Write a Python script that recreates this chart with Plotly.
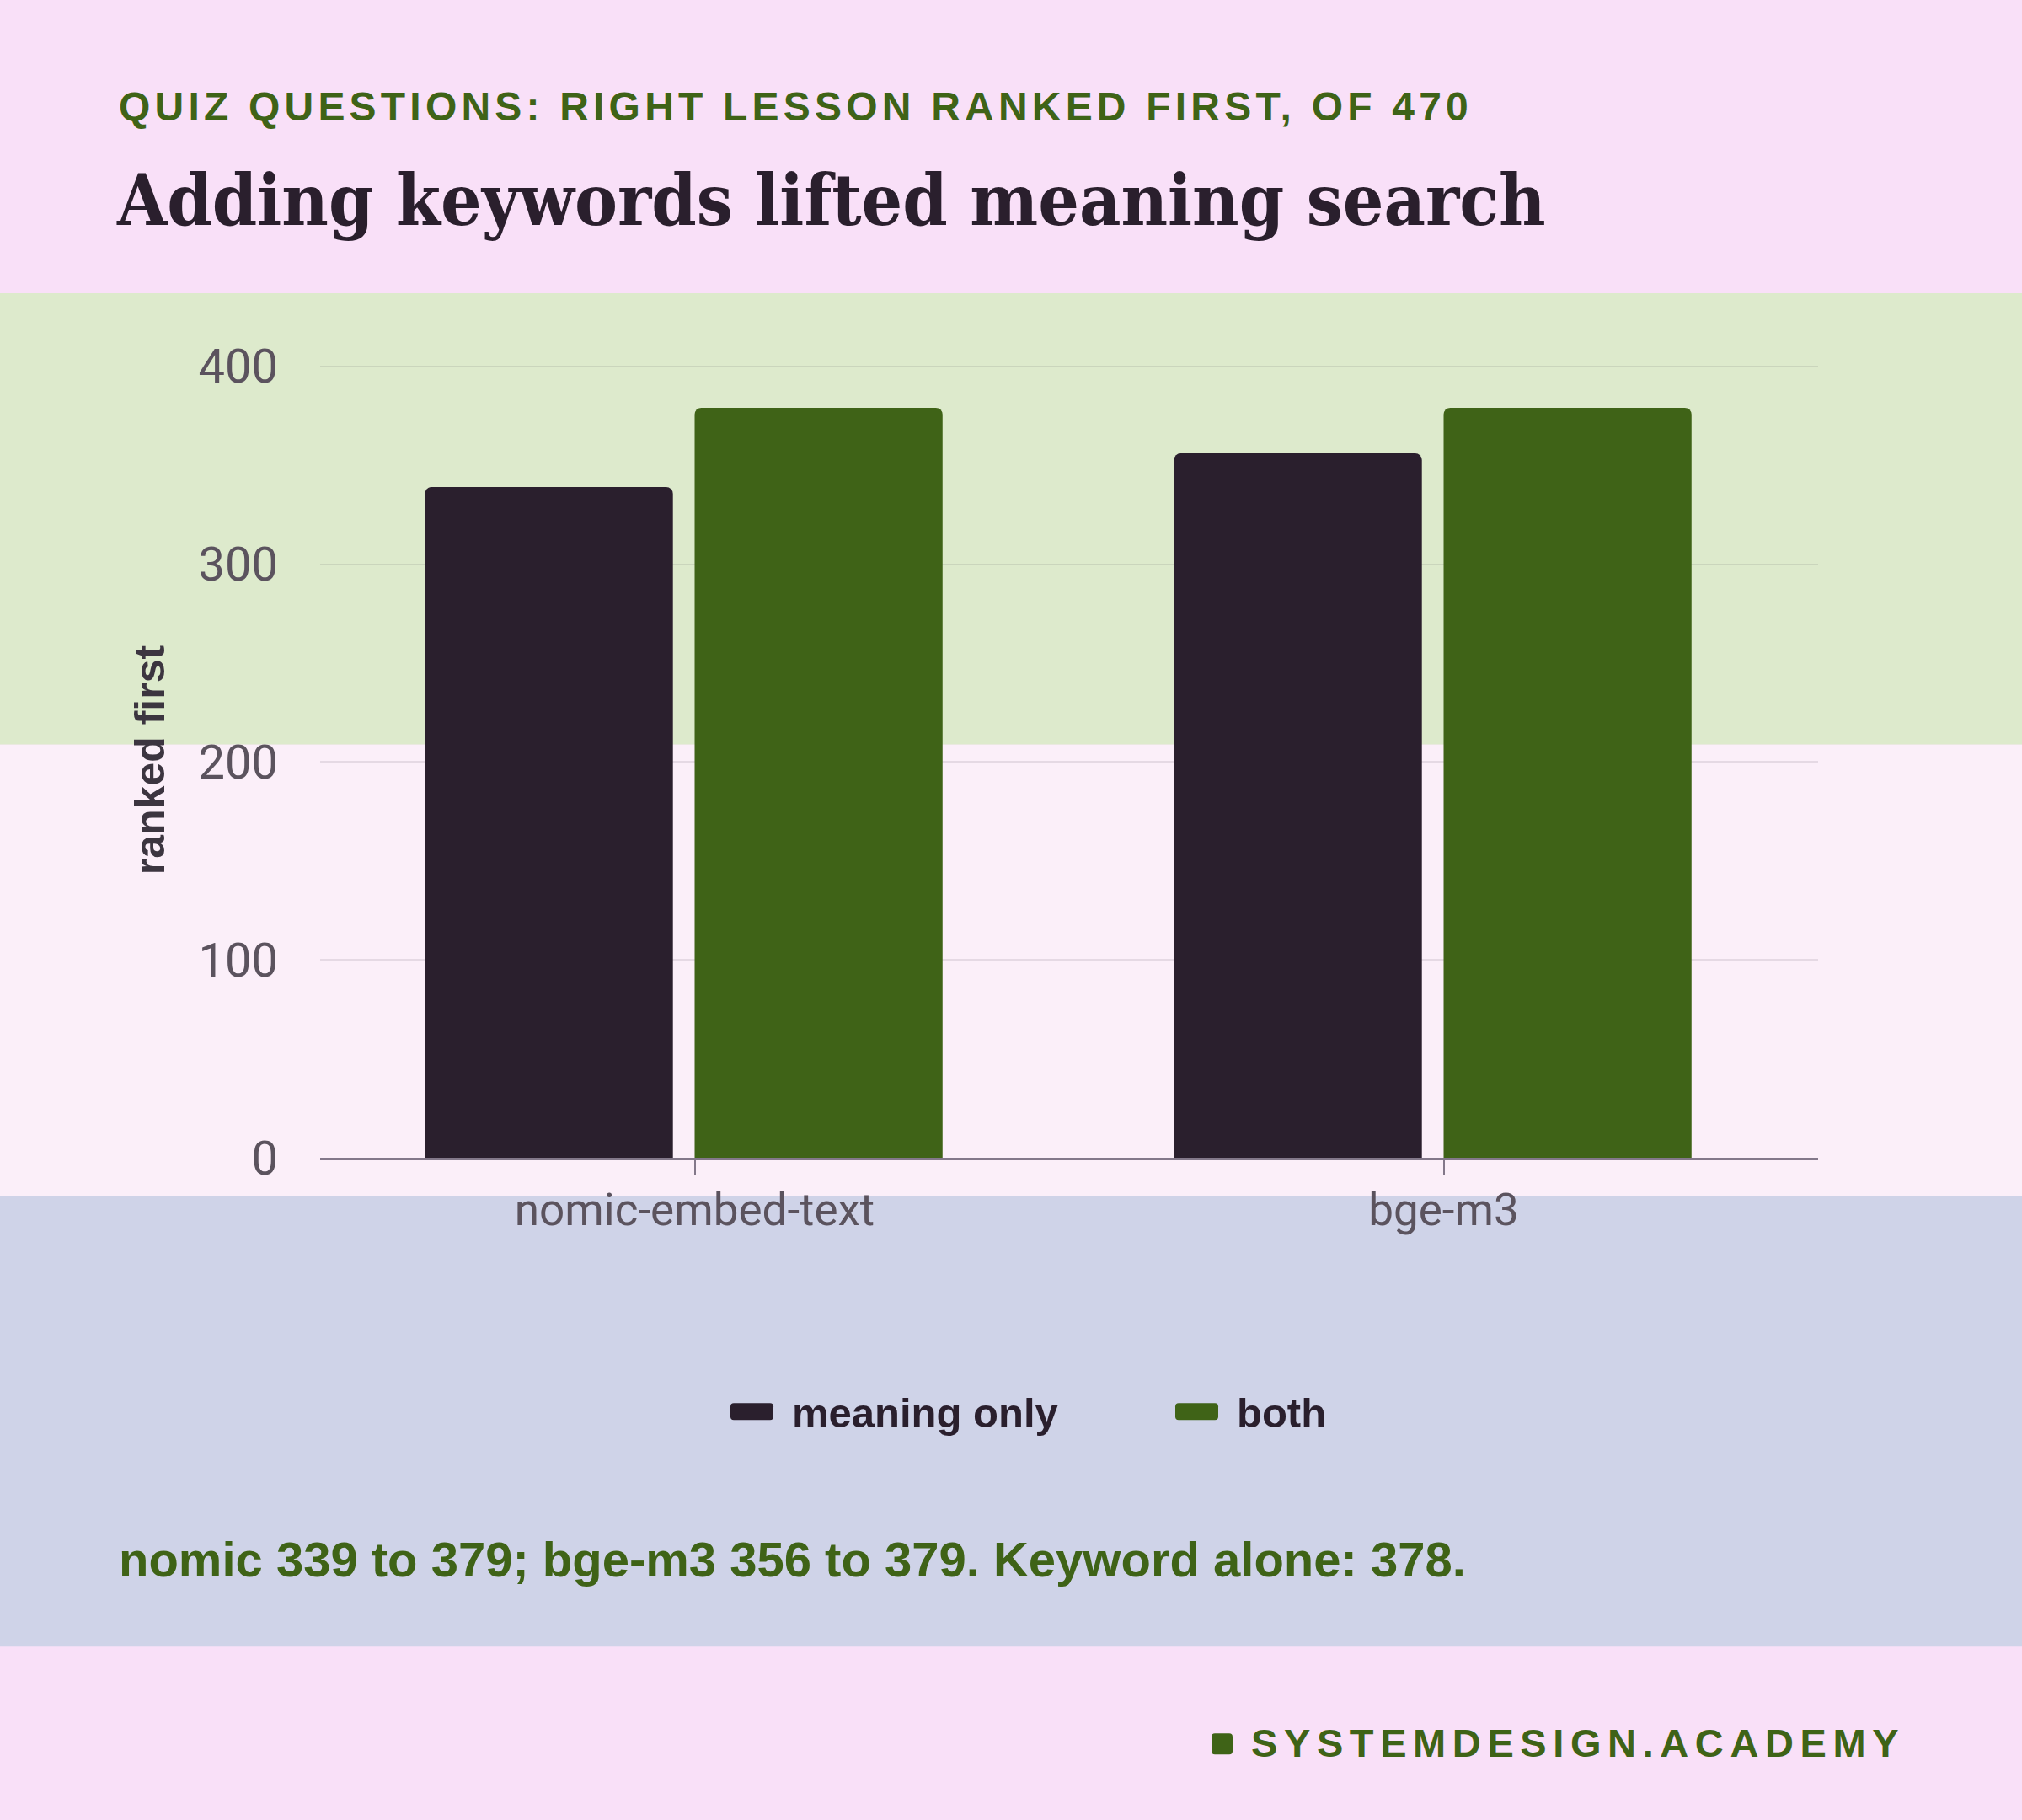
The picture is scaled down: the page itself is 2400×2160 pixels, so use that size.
import plotly.graph_objects as go

# chart data
models = ["nomic-embed-text", "bge-m3"]
meaning_only = [339, 356]
both = [379, 379]
series_names = ["meaning only", "both"]
y_ticks = [0, 100, 200, 300, 400]

kicker = "QUIZ QUESTIONS: RIGHT LESSON RANKED FIRST, OF 470"
headline = "Adding keywords lifted meaning search"
note = "nomic 339 to 379; bge-m3 356 to 379. Keyword alone: 378."
brand = "SYSTEMDESIGN.ACADEMY"
y_title = "ranked first"

W, H = 2400, 2160
ML, MR, MT, MB = 380, 242, 430, 785.5
PLOT_H = H - MT - MB

INK = "#2A1F2D"
GREEN = "#3F6317"
PINK = "#F9E0F8"


def py(y):
    # pixel row -> paper y
    return (H - MB - y) / PLOT_H


def px(x):
    return (x - ML) / (W - ML - MR)


fig = go.Figure()
fig.add_trace(go.Bar(x=models, y=meaning_only, name=series_names[0],
                     marker=dict(color=INK, cornerradius=8, line=dict(width=0)),
                     width=0.331, offset=-0.36))
fig.add_trace(go.Bar(x=models, y=both, name=series_names[1],
                     marker=dict(color=GREEN, cornerradius=8, line=dict(width=0)),
                     width=0.331, offset=0.0))

# background bands
bands = [(348, 884, "#DDEACC"), (884, 1420, "#FBEFF9"), (1420, 1955, "#CFD3E8")]
for y0, y1, col in bands:
    fig.add_shape(type="rect", xref="paper", yref="paper", x0=px(0), x1=px(W),
                  y0=py(y1), y1=py(y0), fillcolor=col, line_width=0, layer="below")

# brand square
fig.add_shape(type="path", xref="paper", yref="paper",
              path=f"M{px(1438)},{py(2062)} L{px(1438)},{py(2079)} Q{px(1438)},{py(2083)} {px(1442)},{py(2083)} "
                   f"L{px(1459)},{py(2083)} Q{px(1463)},{py(2083)} {px(1463)},{py(2079)} "
                   f"L{px(1463)},{py(2062)} Q{px(1463)},{py(2058)} {px(1459)},{py(2058)} "
                   f"L{px(1442)},{py(2058)} Q{px(1438)},{py(2058)} {px(1438)},{py(2062)} Z",
              fillcolor=GREEN, line_width=0)

fig.add_annotation(text=f'<span style="letter-spacing:5.2px">{kicker}</span>',
                   xref="paper", yref="paper", x=px(139), y=py(126.5),
                   xanchor="left", yanchor="middle", showarrow=False,
                   font=dict(family="Liberation Sans", size=48, color=GREEN, weight="bold"))
fig.add_annotation(text=note, xref="paper", yref="paper", x=px(139), y=py(1851),
                   xanchor="left", yanchor="middle", showarrow=False,
                   font=dict(family="Liberation Sans", size=58, color=GREEN, weight="bold"))
fig.add_annotation(text=f'<span style="letter-spacing:7.6px">{brand}</span>',
                   xref="paper", yref="paper", x=px(1483), y=py(2069),
                   xanchor="left", yanchor="middle", showarrow=False,
                   font=dict(family="Liberation Sans", size=47, color=GREEN, weight="bold"))

fig.update_layout(
    width=W, height=H,
    margin=dict(l=ML, r=MR, t=MT, b=MB),
    paper_bgcolor=PINK,
    plot_bgcolor="rgba(0,0,0,0)",
    barmode="group",
    title=dict(text=headline, xref="container", yref="container",
               x=139 / W, y=1 - 237.5 / H, xanchor="left", yanchor="middle",
               font=dict(family="DejaVu Serif Condensed, Liberation Serif, serif",
                         size=85, color=INK, weight="bold")),
    legend=dict(orientation="h", xref="paper", yref="paper",
                x=px(845), y=py(1676), xanchor="left", yanchor="middle",
                itemwidth=85, entrywidth=428, entrywidthmode="pixels",
                font=dict(family="Liberation Sans", size=49, color=INK, weight="bold"),
                bgcolor="rgba(0,0,0,0)"),
    xaxis=dict(showline=True, linecolor="#83788A", linewidth=3,
               ticks="outside", ticklen=18, tickwidth=2, tickcolor="#83788A",
               tickfont=dict(family="Roboto", size=53, color="#5B535E"),
               ticklabelstandoff=-5, showgrid=False),
    yaxis=dict(range=[0, 402], tickvals=y_ticks, showgrid=True,
               gridcolor="rgba(42,31,45,0.10)", gridwidth=2, zeroline=False,
               tickfont=dict(family="Roboto", size=56, color="#5B535E"),
               ticklabelstandoff=49,
               title=dict(text=y_title, standoff=24,
                          font=dict(family="Liberation Sans", size=50, color="#3C3540",
                                    weight="bold"))),
)

# no page margin; wide rounded legend keys like the bars
post = """
document.body.style.margin = '0';
var gd = document.getElementById('{plot_id}');
function wideKeys() {
  gd.querySelectorAll('.legend .legendpoints path').forEach(function (p) {
    p.setAttribute('d', 'M-25.5,-6A4,4 0 0 1 -21.5,-10H21.5A4,4 0 0 1 25.5,-6V6A4,4 0 0 1 21.5,10H-21.5A4,4 0 0 1 -25.5,6Z');
  });
}
wideKeys();
gd.on('plotly_afterplot', wideKeys);
"""

fig.write_html("out.html", post_script=post, config={"displayModeBar": False})
